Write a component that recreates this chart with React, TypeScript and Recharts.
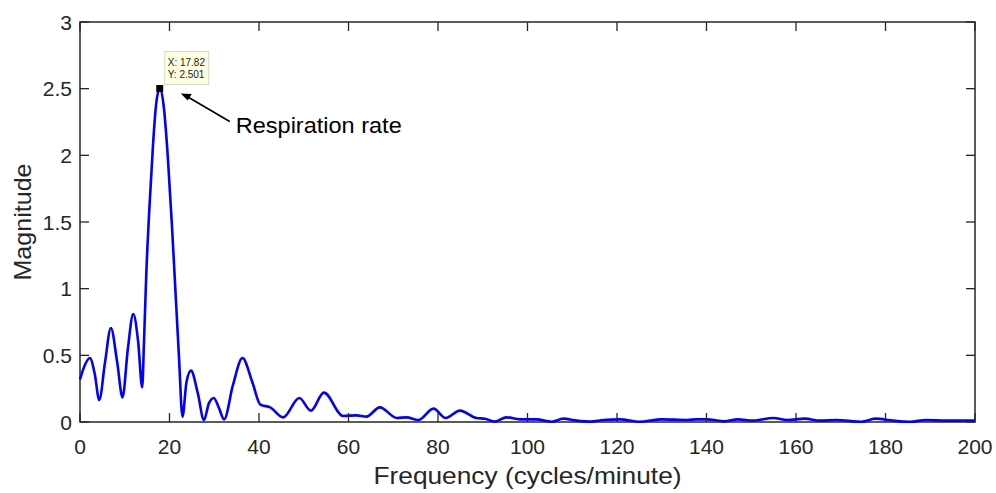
import React from "react";
import { LineChart, Line, XAxis, YAxis, ReferenceArea, ReferenceDot } from "recharts";

const frequency = [
  0, 1.0, 2.2, 3.3, 4.3, 5.6, 6.9, 8.3, 9.5, 10.7, 11.9, 13.0, 13.9, 14.3, 14.8, 15.5, 16.3, 17.0, 17.82, 18.7,
  19.6, 20.5, 21.3, 22.1, 22.9, 23.8, 24.8, 26.3, 27.7, 28.8, 29.9, 31.0, 32.2, 34.2, 36.3, 38.5, 40.3,
  42.5, 45.4, 49.0, 51.6, 54.5, 58.8, 61.8, 64.0, 67.0, 70.8, 73.0, 75.6, 79.0, 81.7, 84.9, 88.6, 90.5,
  92.7, 95.3, 98.3, 102, 105.4, 108, 111, 114, 117, 120.7, 125, 130, 135.6, 138, 140, 144, 147, 150.4,
  155, 158, 162, 165.4, 169, 174.7, 177.7, 181.7, 185.5, 189, 193.7, 200,
];
const magnitude = [
  0.32, 0.42, 0.48, 0.36, 0.165, 0.45, 0.705, 0.45, 0.185, 0.55, 0.81, 0.6, 0.26, 0.6, 1.1, 1.6, 2.07, 2.38, 2.501, 2.37,
  2.0, 1.5, 1.0, 0.5, 0.04, 0.3, 0.385, 0.22, 0.015, 0.14, 0.18, 0.11, 0.02, 0.28, 0.48, 0.3, 0.13,
  0.11, 0.035, 0.18, 0.085, 0.22, 0.045, 0.05, 0.04, 0.11, 0.03, 0.035, 0.015, 0.1, 0.03, 0.085, 0.03, 0.025,
  0.003, 0.035, 0.02, 0.02, 0.002, 0.025, 0.01, 0.003, 0.015, 0.02, 0.002, 0.02, 0.015, 0.02, 0.02, 0.005, 0.02, 0.01,
  0.03, 0.015, 0.025, 0.01, 0.015, 0.002, 0.025, 0.01, 0.002, 0.015, 0.01, 0.01,
];
const xTicks = [0, 20, 40, 60, 80, 100, 120, 140, 160, 180, 200];
const yTicks = [0, 0.5, 1, 1.5, 2, 2.5, 3];
const peak = { x: 17.82, y: 2.501 };
const xLabel = "Frequency (cycles/minute)";
const yLabel = "Magnitude";
const annotation = "Respiration rate";

const data = frequency.map((f, i) => ({ f, m: magnitude[i] }));

const W = 996;
const H = 493;
const PLOT_W = 895;
const PLOT_H = 400;
const TICK = 9;
const AXIS = "#262626";
const FONT = "'Liberation Sans', Arial, Helvetica, sans-serif";

const XTick = (props: any) => {
  const { x, y, payload } = props;
  return (
    <g>
      <line x1={x} y1={y} x2={x} y2={y - TICK} stroke={AXIS} strokeWidth={1.3} />
      <line x1={x} y1={y - PLOT_H} x2={x} y2={y - PLOT_H + TICK} stroke={AXIS} strokeWidth={1.3} />
      <text x={x} y={y + 31.5} textAnchor="middle" fontSize={21} fill={AXIS} fontFamily={FONT}>
        {payload.value}
      </text>
    </g>
  );
};

const YTick = (props: any) => {
  const { x, y, payload } = props;
  return (
    <g>
      <line x1={x} y1={y} x2={x + TICK} y2={y} stroke={AXIS} strokeWidth={1.3} />
      <line x1={x + PLOT_W} y1={y} x2={x + PLOT_W - TICK} y2={y} stroke={AXIS} strokeWidth={1.3} />
      <text x={x - 8} y={y + 7.5} textAnchor="end" fontSize={21} fill={AXIS} fontFamily={FONT}>
        {String(payload.value)}
      </text>
    </g>
  );
};

const PeakShape = (props: any) => {
  const { cx, cy } = props;
  return (
    <g>
      <rect x={cx - 3.5} y={cy - 3.5} width={7} height={7} fill="#000" />
      <rect x={cx + 5} y={cy - 37} width={44} height={33} fill="#ffffe1" stroke="#d8d8c8" strokeWidth={1} />
      <text x={cx + 8} y={cy - 23} fontSize={10} fill="#222" fontFamily={FONT}>
        {`X: ${peak.x}`}
      </text>
      <text x={cx + 8} y={cy - 11} fontSize={10} fill="#222" fontFamily={FONT}>
        {`Y: ${peak.y}`}
      </text>
      <line x1={cx + 70} y1={cy + 33} x2={cx + 29} y2={cy + 9} stroke="#000" strokeWidth={1.6} />
      <polygon
        points={`${cx + 21},${cy + 5} ${cx + 32},${cy + 5.5} ${cx + 28},${cy + 12}`}
        fill="#000"
      />
      <text x={cx + 76} y={cy + 44} fontSize={22} fill="#000" fontFamily={FONT} textLength={166} lengthAdjust="spacingAndGlyphs">
        {annotation}
      </text>
    </g>
  );
};

export default function App() {
  return (
    <div style={{ position: "absolute", left: 0, top: 0, width: W, height: H, background: "#fff" }}>
      <LineChart width={W} height={H} data={data} margin={{ top: 22, right: 21, bottom: 0, left: 0 }}>
        <XAxis
          dataKey="f"
          type="number"
          domain={[0, 200]}
          ticks={xTicks}
          axisLine={false}
          tickLine={false}
          tickSize={0}
          tickMargin={0}
          height={71}
          interval={0}
          tick={<XTick />}
          label={{
            content: (p: any) => {
              const vb = p.viewBox || {};
              return (
                <text
                  x={vb.x + vb.width / 2}
                  y={vb.y + 62}
                  textAnchor="middle"
                  fontSize={24}
                  fill={AXIS}
                  fontFamily={FONT}
                  textLength={308}
                  lengthAdjust="spacingAndGlyphs"
                >
                  {xLabel}
                </text>
              );
            },
          }}
        />
        <YAxis
          type="number"
          domain={[0, 3]}
          ticks={yTicks}
          axisLine={false}
          tickLine={false}
          tickSize={0}
          tickMargin={0}
          width={80}
          interval={0}
          tick={<YTick />}
          label={{
            content: (p: any) => {
              const vb = p.viewBox || {};
              const cx = vb.x + 31;
              const cy = vb.y + vb.height / 2;
              return (
                <text
                  x={cx}
                  y={cy}
                  transform={`rotate(-90, ${cx}, ${cy})`}
                  textAnchor="middle"
                  fontSize={24}
                  fill={AXIS}
                  fontFamily={FONT}
                  textLength={117}
                  lengthAdjust="spacingAndGlyphs"
                >
                  {yLabel}
                </text>
              );
            },
          }}
        />
        <ReferenceArea x1={0} x2={200} y1={0} y2={3} fill="none" stroke={AXIS} strokeWidth={1.5} />
        <Line
          type="monotone"
          dataKey="m"
          stroke="#0000ff"
          strokeWidth={2.6}
          dot={false}
          isAnimationActive={false}
        />
        <ReferenceDot x={peak.x} y={peak.y} r={4} shape={<PeakShape />} />
      </LineChart>
    </div>
  );
}
